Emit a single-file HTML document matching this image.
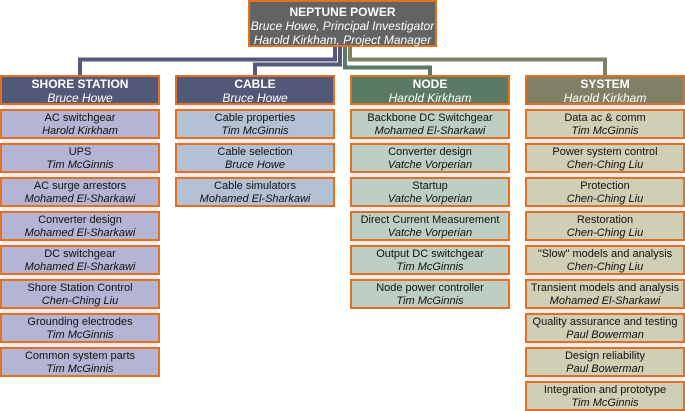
<!DOCTYPE html>
<html><head><meta charset="utf-8"><style>
body{margin:0;width:685px;height:411px;background:#fff;position:relative;overflow:hidden;font-family:"Liberation Sans",Arial,sans-serif;}
.b{position:absolute;box-sizing:border-box;border:2px solid #e2701f;text-align:center;font-size:11px;line-height:13px;color:#111;padding-top:1px;}
.b i{display:block}
.h{color:#fff;font-size:12px;line-height:14px;padding-top:0px;}
.h b{display:block}
.s{position:absolute;}
</style></head><body>
<svg width="685" height="411" style="position:absolute;left:0;top:0">
<g fill="none" stroke="#fff" stroke-width="6">
<path d="M335 45V59.5H80V76"/><path d="M340 45V64.5H255V76"/><path d="M345 45V67.5H430V76"/><path d="M350 45V59.5H605V76"/>
</g>
<g fill="none" stroke-width="4">
<path d="M335 45V59.5H80V76" stroke="#555a7a"/>
<path d="M340 45V64.5H255V76" stroke="#555a7a"/>
<path d="M345 45V67.5H430V76" stroke="#5b7a63"/>
<path d="M350 45V59.5H605V76" stroke="#808066"/>
</g>
</svg>
<div class="b h" style="left:248px;top:0;width:189px;height:47px;background:#636363;padding-top:3px"><b>NEPTUNE POWER</b><i>Bruce Howe, Principal Investigator</i><i>Harold Kirkham, Project Manager</i></div>
<div id="c"></div>
<script>
var cols=[
{x:0,hc:"#535878",bc:"#b4b4d4",t:"SHORE STATION",n:"Bruce Howe",k:[["AC switchgear","Harold Kirkham"],["UPS","Tim McGinnis"],["AC surge arrestors","Mohamed El-Sharkawi"],["Converter design","Mohamed El-Sharkawi"],["DC switchgear","Mohamed El-Sharkawi"],["Shore Station Control","Chen-Ching Liu"],["Grounding electrodes","Tim McGinnis"],["Common system parts","Tim McGinnis"]]},
{x:175,hc:"#535878",bc:"#b4c0d4",t:"CABLE",n:"Bruce Howe",k:[["Cable properties","Tim McGinnis"],["Cable selection","Bruce Howe"],["Cable simulators","Mohamed El-Sharkawi"]]},
{x:350,hc:"#5b7a63",bc:"#bdcfc4",t:"NODE",n:"Harold Kirkham",k:[["Backbone DC Switchgear","Mohamed El-Sharkawi"],["Converter design","Vatche Vorperian"],["Startup","Vatche Vorperian"],["Direct Current Measurement","Vatche Vorperian"],["Output DC switchgear","Tim McGinnis"],["Node power controller","Tim McGinnis"]]},
{x:525,hc:"#808066",bc:"#cfcfb5",t:"SYSTEM",n:"Harold Kirkham",k:[["Data ac & comm","Tim McGinnis"],["Power system control","Chen-Ching Liu"],["Protection","Chen-Ching Liu"],["Restoration","Chen-Ching Liu"],["\"Slow\" models and analysis","Chen-Ching Liu"],["Transient models and analysis","Mohamed El-Sharkawi"],["Quality assurance and testing","Paul Bowerman"],["Design reliability","Paul Bowerman"],["Integration and prototype","Tim McGinnis"]]}];
var h="";
cols.forEach(function(c){
 h+='<div class="s" style="left:'+(c.x+2)+'px;top:104px;width:156px;height:'+(c.k.length*34)+'px;background:#ececf0"></div>';
 h+='<div class="b h" style="left:'+c.x+'px;top:75px;width:160px;height:30px;background:'+c.hc+'"><b>'+c.t+'</b><i>'+c.n+'</i></div>';
 c.k.forEach(function(k,i){
  h+='<div class="b" style="left:'+c.x+'px;top:'+(109+34*i)+'px;width:160px;height:30px;background:'+c.bc+'">'+k[0]+'<i>'+k[1]+'</i></div>';
 });
});
document.getElementById("c").innerHTML=h;
</script>
</body></html>
